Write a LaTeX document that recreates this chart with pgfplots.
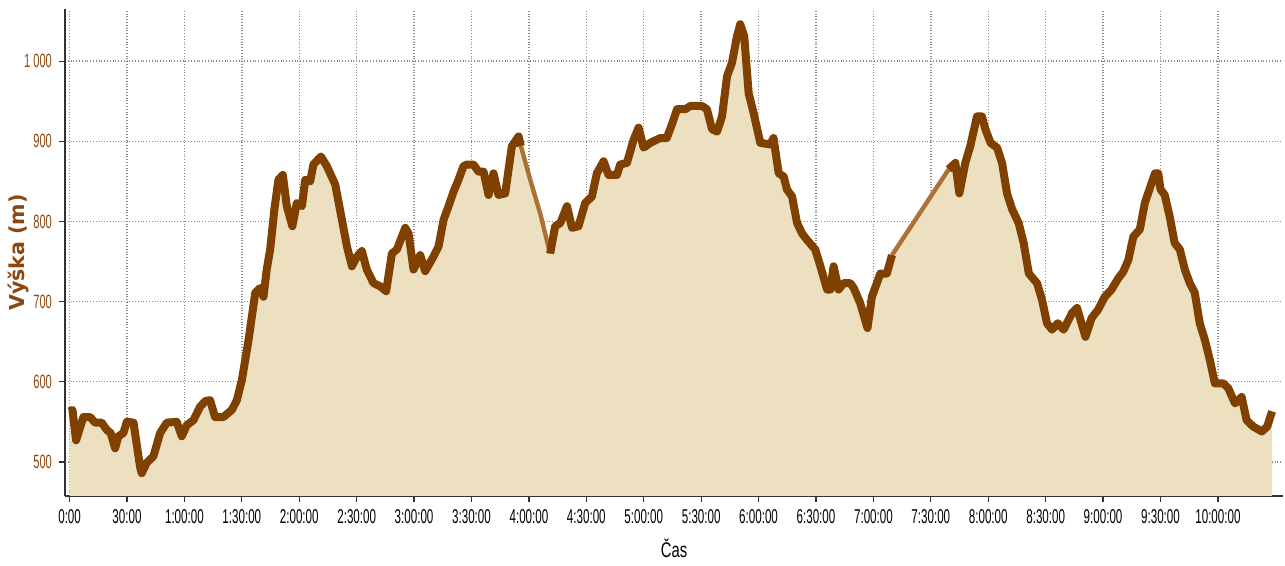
\documentclass[border=0pt]{standalone}
\usepackage{fontspec}
\setmainfont{Liberation Sans}
\newfontfamily\narrowfont{Liberation Sans}[FakeStretch=0.58]
\newfontfamily\labelfont{Liberation Sans}[FakeStretch=0.7]
\newfontfamily\ylabfont{DejaVu Sans}
\usepackage{pgfplots}
\usepackage{pgfplotstable}
\pgfplotsset{compat=1.18}

\definecolor{trackline}{RGB}{128,64,0}
\definecolor{trackthin}{RGB}{160,92,22}
\definecolor{trackfill}{RGB}{236,224,193}
\definecolor{ticktext}{RGB}{140,72,16}

% elapsed time (min), elevation (m)
\pgfplotstableread{
t e
0 563
1.5 565
3.4 527
7.2 556
10.7 556
13.3 549
16.8 549
19.4 540
21.5 536
23.8 517
25.5 532
28.1 536
29.9 550
33.4 549
36.8 494
37.7 486
40.3 499
43.8 507
47.3 536
50.8 549
56 550
58.6 532
61.3 546
64.7 552
68.2 569
71 576
73.4 577
76 556
80.4 556
84.8 565
87.4 577
90 602
93.5 652
97 711
99.6 717
101.3 706
103 740
104.8 765
107 815
109.1 852
111.4 858
113.5 819
116.4 794
118.7 823
121.4 819
123.1 852
125.7 850
127.4 871
131.3 881
134.4 869
138.8 846
142.3 802
144.9 769
147.5 744
150.1 756
152.7 763
155.3 740
158.8 723
162.3 719
165.4 713
168.4 760
171 765
175.4 792
177.1 785
179.7 740
183.2 758
185.8 738
190.1 756
192.8 769
195.4 802
198 819
200.6 837
203.2 852
205.8 869
207.6 871
211 871
213.7 862
216.3 862
218.9 833
221.5 860
224.1 833
227.6 835
231.1 894
234.6 906
235.8 894
240.7 852
245.9 810
251.1 760
253.7 794
256.4 798
259.9 819
262.5 792
265.9 794
269.4 823
272.9 831
275.5 860
279 875
281.6 858
286 858
287.7 871
291.2 873
294.7 902
297.3 917
299.9 892
303.4 898
308.6 904
312 904
314.7 921
317.4 940
321.7 940
324.3 944
330.4 944
333 940
335.7 915
338.3 912
340.9 931
343.5 981
346.1 998
348.7 1031
350.4 1046
352.5 1031
354.8 960
357.4 935
360.9 898
366.1 896
367.8 904
370.5 860
373.1 856
374.8 840
377.5 831
380.1 798
382.7 785
385.3 777
389.6 765
392.3 744
395.8 715
397.5 715
399.2 744
401.8 715
404.4 723
407.9 723
409.7 717
413.1 698
416.9 667
419.2 706
423.6 735
427 735
429.7 758
459.3 865
462.8 873
464.9 835
468 873
470.6 894
474.1 931
476.7 931
478.5 915
481.2 898
484.6 892
487.2 873
489.8 835
492.5 815
495.9 798
498.5 773
501.2 735
505.5 723
508.1 702
510.7 673
513.3 665
516.3 673
519.4 665
523.8 686
526.4 692
530.8 656
533.9 679
537.4 690
540.9 706
544.4 715
547.9 729
550.5 737
553.2 752
555.8 781
559.2 790
561.8 823
564.5 842
567.1 860
568.8 860
570 840
572.2 833
574.8 806
577.4 773
580.1 765
582.7 740
585.3 723
587.9 711
590.5 673
593.2 652
595.8 627
598.4 598
602.8 598
605.4 592
608.9 573
612.4 581
615 552
618.5 544
622.9 538
625.7 544
628.3 563
}\elev

\begin{document}
\begin{tikzpicture}
\begin{axis}[
    scale only axis,
    width=609pt, height=243.5pt,
    xmin=-2.4, xmax=634,
    ymin=457.5, ymax=1065,
    axis lines=left,
    axis line style={-, draw=black!80, line width=1pt},
    xtick={0,30,...,600},
    xticklabels={0:00,30:00,1:00:00,1:30:00,2:00:00,2:30:00,3:00:00,3:30:00,4:00:00,4:30:00,5:00:00,5:30:00,6:00:00,6:30:00,7:00:00,7:30:00,8:00:00,8:30:00,9:00:00,9:30:00,10:00:00},
    ytick={500,600,700,800,900,1000},
    yticklabels={500,600,700,800,900,1 000},
    xticklabel style={font=\narrowfont\fontsize{10}{11}\selectfont, text=black},
    yticklabel style={font=\narrowfont\fontsize{9.6}{11}\selectfont, text=ticktext},
    tick align=outside,
    major tick length=3pt,
    tick style={black!80, line width=0.6pt},
    grid=major,
    grid style={densely dotted, gray!90, line width=0.7pt},
    xlabel={Čas},
    xlabel style={font=\labelfont\fontsize{10.6}{12}\selectfont, at={(axis description cs:0.5,0)}, anchor=center, yshift=-26pt},
    ylabel={Výška (m)},
    ylabel style={font=\ylabfont\bfseries\fontsize{10.3}{12}\selectfont, text=ticktext, at={(axis description cs:0,0.5)}, anchor=center, yshift=23.5pt},
]
\addplot[fill=trackfill, draw=none] table[x=t, y=e] {\elev} \closedcycle;
\addplot[trackthin, line width=2.2pt, opacity=0.85, restrict x to domain=235.7:251.2] table[x=t, y=e] {\elev};
\addplot[trackthin, line width=2.2pt, opacity=0.85, restrict x to domain=429.6:459.4] table[x=t, y=e] {\elev};
\addplot[trackline, line width=4pt, line join=round, restrict x to domain=-1:235.9] table[x=t, y=e] {\elev};
\addplot[trackline, line width=4pt, line join=round, restrict x to domain=251.0:429.8] table[x=t, y=e] {\elev};
\addplot[trackline, line width=4pt, line join=round, restrict x to domain=459.2:640] table[x=t, y=e] {\elev};
\end{axis}
\pgfresetboundingbox
\path ([xshift=-32.5pt,yshift=-35pt]current axis.south west) rectangle ([xshift=1pt,yshift=4.5pt]current axis.north east);
\end{tikzpicture}
\end{document}
